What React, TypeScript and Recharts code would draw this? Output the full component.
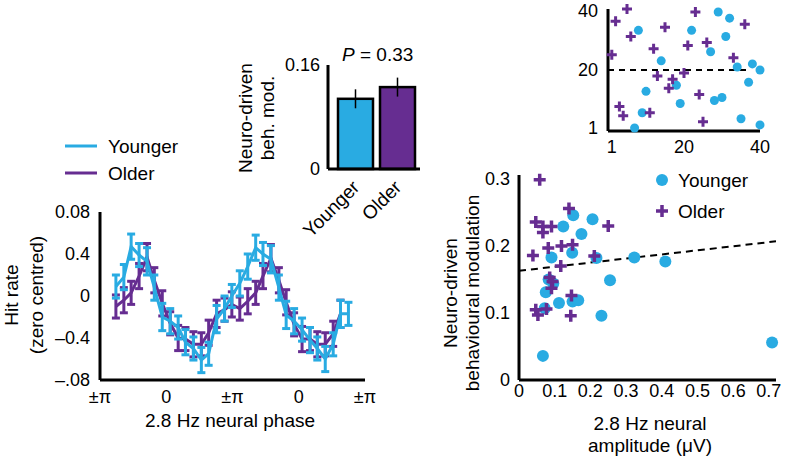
import {
  Bar,
  BarChart,
  ErrorBar,
  Line,
  LineChart,
  ReferenceLine,
  Scatter,
  ScatterChart,
  XAxis,
  YAxis,
} from "recharts";

const BLUE = "#29abe2";
const PURPLE = "#662d91";
const FONT = "'Liberation Sans', Arial, sans-serif";
const LABEL = 19;

// phase bins (in units of pi, -1 = first ±pi tick)
const phaseBins = [
  -0.76, -0.64, -0.53, -0.41, -0.29, -0.18, -0.06, 0.06, 0.18, 0.29, 0.41,
  0.53, 0.64, 0.76, 0.88, 0.99, 1.11, 1.23, 1.35, 1.46, 1.58, 1.7, 1.81, 1.93,
  2.05, 2.17, 2.28, 2.4, 2.52, 2.63, 2.75,
];
const youngerHit = [
  0.009, 0.018, 0.047, 0.039, 0.033, 0.008, -0.02, -0.024, -0.03, -0.044,
  -0.05, -0.061, -0.055, -0.022, -0.012, 0.0, 0.012, 0.028, 0.046, 0.04, 0.035,
  0.008, -0.018, -0.024, -0.032, -0.042, -0.05, -0.06, -0.046, -0.017, -0.017,
];
const youngerErr = [
  0.011, 0.012, 0.012, 0.011, 0.013, 0.012, 0.013, 0.012, 0.011, 0.012, 0.011,
  0.012, 0.011, 0.013, 0.012, 0.011, 0.012, 0.012, 0.012, 0.011, 0.013, 0.012,
  0.013, 0.012, 0.011, 0.012, 0.011, 0.012, 0.011, 0.013, 0.011,
];
const olderHit = [
  -0.01, -0.004, 0.003, 0.019, 0.037, 0.015, -0.007, -0.026, -0.04, -0.041,
  -0.046, -0.046, -0.035, -0.017, -0.013, -0.008, -0.012, -0.005, 0.003, 0.019,
  0.036, 0.015, -0.006, -0.027, -0.041, -0.041, -0.046, -0.046, -0.036, -0.017,
];
const olderErr = [
  0.011, 0.012, 0.011, 0.012, 0.013, 0.012, 0.012, 0.011, 0.012, 0.011, 0.012,
  0.011, 0.012, 0.013, 0.011, 0.012, 0.011, 0.012, 0.011, 0.012, 0.013, 0.012,
  0.012, 0.011, 0.012, 0.011, 0.012, 0.011, 0.012, 0.013,
];
const phaseTicks = [-1, 0, 1, 2, 3];
const phaseTickLabels = ["±π", "0", "±π", "0", "±π"];
const hitTicks = [-0.08, -0.04, 0, 0.04, 0.08];
const hitTickLabels = ["–.08", "–0.4", "0", "0.4", "0.08"];

// bar panel
const groups = ["Younger", "Older"];
const groupMod = [0.108, 0.126];
const groupErr = [0.0146, 0.0146];

// rank scatter (top right)
const rankYoungerX = [8, 22, 29, 32, 31, 27, 14, 34, 38, 40, 37, 18, 10, 19, 28, 30, 9, 7, 35, 40];
const rankYoungerY = [33, 33, 39, 37, 31, 26, 23, 21, 22, 20, 16, 15, 13, 9, 10, 11, 6, 1, 4, 2];
const rankOlderX = [5, 2, 6, 1, 15, 12, 23, 21, 26, 36, 33, 13, 17, 16, 20, 24, 3, 4, 11, 25];
const rankOlderY = [40, 36, 31, 25, 34, 27, 39, 28, 29, 35, 24, 18, 17, 14, 19, 12, 8, 5, 6, 3];

// amplitude scatter (bottom right)
const ampYoungerX = [0.152, 0.206, 0.124, 0.175, 0.149, 0.091, 0.217, 0.323, 0.41, 0.255, 0.075, 0.096, 0.112, 0.15, 0.166, 0.072, 0.231, 0.067, 0.709, 0.083];
const ampYoungerY = [0.246, 0.24, 0.229, 0.218, 0.19, 0.183, 0.182, 0.183, 0.177, 0.149, 0.131, 0.144, 0.115, 0.117, 0.119, 0.107, 0.096, 0.036, 0.056, 0.15];
const ampOlderX = [0.058, 0.14, 0.047, 0.067, 0.091, 0.25, 0.067, 0.082, 0.119, 0.15, 0.039, 0.211, 0.117, 0.086, 0.094, 0.091, 0.147, 0.047, 0.077, 0.053, 0.145];
const ampOlderY = [0.299, 0.256, 0.236, 0.229, 0.229, 0.23, 0.22, 0.197, 0.2, 0.202, 0.186, 0.185, 0.17, 0.153, 0.147, 0.137, 0.126, 0.105, 0.106, 0.097, 0.096];
const fitX = [0, 0.72];
const fitY = [0.163, 0.207];

const hitData = phaseBins.map((p, i) => ({
  phase: p,
  younger: youngerHit[i],
  youngerErr: youngerErr[i],
  older: olderHit[i],
  olderErr: olderErr[i],
}));
const barData = groups.map((g, i) => ({ group: g, mod: groupMod[i], err: groupErr[i] }));
const zip = (xs: number[], ys: number[]) => xs.map((x, i) => ({ x, y: ys[i] }));

const tickStyle = { fill: "#000", fontSize: 18, fontFamily: FONT };
const axisStyle = { stroke: "#000", strokeWidth: 3 };

const Dot = (r: number) => (p: any) => <circle cx={p.cx} cy={p.cy} r={r} fill={BLUE} />;
const Plus = (s: number, w: number) => (p: any) => (
  <path
    d={`M${p.cx - s},${p.cy}h${2 * s}M${p.cx},${p.cy - s}v${2 * s}`}
    stroke={PURPLE}
    strokeWidth={w}
    fill="none"
  />
);

const RotTick = (p: any) => (
  <text
    x={p.x + 1}
    y={p.y + 7}
    transform={`rotate(-45 ${p.x + 1} ${p.y + 7})`}
    textAnchor="end"
    dominantBaseline="central"
    style={{ ...tickStyle, fontSize: LABEL }}
  >
    {p.payload.value}
  </text>
);

const VText = ({ x, y, children }: any) => (
  <text
    x={x}
    y={y}
    transform={`rotate(-90 ${x} ${y})`}
    textAnchor="middle"
    dominantBaseline="central"
    fontSize={LABEL}
    fontFamily={FONT}
  >
    {children}
  </text>
);

export default function App() {
  return (
    <div style={{ position: "absolute", left: 0, top: 0, width: 788, height: 456, background: "#fff", fontFamily: FONT }}>
      {/* hit rate vs phase */}
      <div style={{ position: "absolute", left: 0, top: 200 }}>
        <LineChart width={380} height={230} data={hitData} margin={{ top: 12, right: 15, bottom: 0, left: 0 }}>
          <XAxis
            dataKey="phase"
            type="number"
            domain={[-1, 3]}
            ticks={phaseTicks}
            tickFormatter={(v: number) => phaseTickLabels[phaseTicks.indexOf(v)]}
            tickLine={false}
            tickSize={0}
            tickMargin={10}
            axisLine={axisStyle}
            tick={tickStyle}
            height={50}
          />
          <YAxis
            type="number"
            domain={[-0.08, 0.08]}
            ticks={hitTicks}
            tickFormatter={(v: number) => hitTickLabels[hitTicks.indexOf(v)]}
            tickLine={false}
            tickSize={0}
            tickMargin={10}
            axisLine={axisStyle}
            tick={tickStyle}
            width={100}
          />
          <Line dataKey="older" stroke={PURPLE} strokeWidth={3} dot={false} isAnimationActive={false}>
            <ErrorBar dataKey="olderErr" direction="y" width={4} stroke={PURPLE} strokeWidth={3} />
          </Line>
          <Line dataKey="younger" stroke={BLUE} strokeWidth={3} dot={false} isAnimationActive={false}>
            <ErrorBar dataKey="youngerErr" direction="y" width={4} stroke={BLUE} strokeWidth={3} />
          </Line>
        </LineChart>
      </div>

      {/* group bars */}
      <div style={{ position: "absolute", left: 230, top: 50 }}>
        <BarChart width={200} height={190} data={barData} margin={{ top: 15, right: 10, bottom: 0, left: 0 }}>
          <XAxis
            dataKey="group"
            tickLine={false}
            axisLine={axisStyle}
            tick={RotTick}
            height={71}
            padding={{ left: 6, right: 2 }}
            interval={0}
          />
          <YAxis
            domain={[0, 0.16]}
            ticks={[0, 0.16]}
            tickLine={false}
            tickSize={0}
            tickMargin={8}
            axisLine={axisStyle}
            tick={tickStyle}
            width={98}
          />
          <Bar dataKey="mod" barSize={35} stroke="#000" strokeWidth={2.5} isAnimationActive={false}
            shape={(p: any) => (
              <rect x={p.x} y={p.y} width={p.width} height={p.height}
                fill={p.payload.group === "Younger" ? BLUE : PURPLE} stroke="#000" strokeWidth={2.5} />
            )}
          >
            <ErrorBar dataKey="err" direction="y" width={0} stroke="#000" strokeWidth={1.5} />
          </Bar>
        </BarChart>
      </div>

      {/* rank scatter */}
      <div style={{ position: "absolute", left: 560, top: 0 }}>
        <ScatterChart width={228} height={160} margin={{ top: 9, right: 28, bottom: 0, left: 0 }}>
          <XAxis
            dataKey="x"
            type="number"
            domain={[0, 40]}
            ticks={[1, 20, 40]}
            tickLine={false}
            tickSize={0}
            tickMargin={9}
            axisLine={axisStyle}
            tick={tickStyle}
            height={29}
          />
          <YAxis
            dataKey="y"
            type="number"
            domain={[0, 40]}
            ticks={[1, 20, 40]}
            tickLine={false}
            tickSize={0}
            tickMargin={10}
            axisLine={axisStyle}
            tick={tickStyle}
            width={48}
          />
          <ReferenceLine segment={[{ x: 0, y: 20 }, { x: 37, y: 20 }]} stroke="#000" strokeWidth={2} strokeDasharray="6 5" />
          <Scatter data={zip(rankYoungerX, rankYoungerY)} shape={Dot(4.5)} isAnimationActive={false} />
          <Scatter data={zip(rankOlderX, rankOlderY)} shape={Plus(5, 3)} isAnimationActive={false} />
        </ScatterChart>
      </div>

      {/* amplitude scatter */}
      <div style={{ position: "absolute", left: 410, top: 160 }}>
        <ScatterChart width={378} height={296} margin={{ top: 15, right: 12, bottom: 0, left: 0 }}>
          <XAxis
            dataKey="x"
            type="number"
            domain={[0, 0.72]}
            ticks={[0, 0.1, 0.2, 0.3, 0.4, 0.5, 0.6, 0.7]}
            tickLine={false}
            tickSize={0}
            tickMargin={4}
            axisLine={axisStyle}
            tick={tickStyle}
            height={76}
          />
          <YAxis
            dataKey="y"
            type="number"
            domain={[0, 0.306]}
            ticks={[0, 0.1, 0.2, 0.3]}
            tickLine={false}
            tickSize={0}
            tickMargin={9}
            axisLine={axisStyle}
            tick={tickStyle}
            width={109}
          />
          <Scatter data={zip(ampYoungerX, ampYoungerY)} shape={Dot(6)} isAnimationActive={false} />
          <Scatter data={zip(ampOlderX, ampOlderY)} shape={Plus(6, 3.5)} isAnimationActive={false} />
          <ReferenceLine
            segment={[{ x: fitX[0], y: fitY[0] }, { x: fitX[1], y: fitY[1] }]}
            stroke="#000"
            strokeWidth={2}
            strokeDasharray="7 5"
          />
        </ScatterChart>
      </div>

      {/* free text and legends */}
      <svg width={788} height={456} style={{ position: "absolute", left: 0, top: 0, pointerEvents: "none" }}>
        <line x1={65} x2={97} y1={146} y2={146} stroke={BLUE} strokeWidth={3} />
        <line x1={65} x2={97} y1={173} y2={173} stroke={PURPLE} strokeWidth={3} />
        <text x={108} y={146} dominantBaseline="central" fontSize={LABEL} fontFamily={FONT}>Younger</text>
        <text x={108} y={173} dominantBaseline="central" fontSize={LABEL} fontFamily={FONT}>Older</text>

        <VText x={11} y={295}>Hit rate</VText>
        <VText x={36} y={295}>(zero centred)</VText>
        <text x={230} y={420} textAnchor="middle" dominantBaseline="central" fontSize={LABEL} fontFamily={FONT}>
          2.8 Hz neural phase
        </text>

        <VText x={245} y={118}>Neuro-driven</VText>
        <VText x={267} y={118}>beh. mod.</VText>
        <text x={342} y={54} dominantBaseline="central" fontSize={LABEL} fontFamily={FONT}>
          <tspan fontStyle="italic">P</tspan> = 0.33
        </text>

        <circle cx={662} cy={180} r={6} fill={BLUE} />
        <path d="M656,211h12M662,205v12" stroke={PURPLE} strokeWidth={3.5} />
        <text x={678} y={180} dominantBaseline="central" fontSize={LABEL} fontFamily={FONT}>Younger</text>
        <text x={678} y={211} dominantBaseline="central" fontSize={LABEL} fontFamily={FONT}>Older</text>

        <VText x={450} y={293}>Neuro-driven</VText>
        <VText x={472} y={293}>behavioural modulation</VText>
        <text x={650} y={423} textAnchor="middle" dominantBaseline="central" fontSize={LABEL} fontFamily={FONT}>
          2.8 Hz neural
        </text>
        <text x={650} y={445} textAnchor="middle" dominantBaseline="central" fontSize={LABEL} fontFamily={FONT}>
          amplitude (μV)
        </text>
      </svg>
    </div>
  );
}
